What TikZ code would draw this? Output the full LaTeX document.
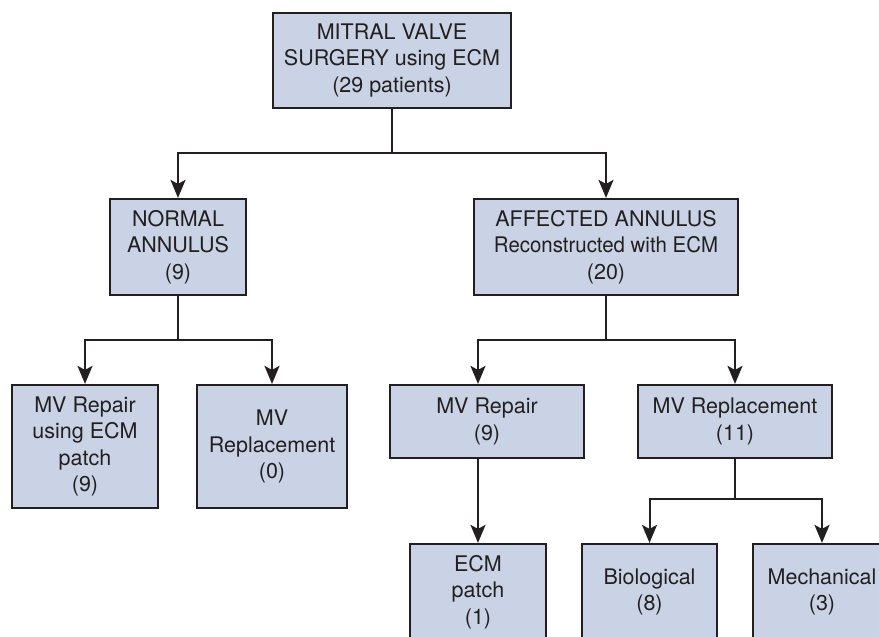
\documentclass[tikz,border=0pt]{standalone}
\usepackage{fontspec}
\setmainfont{TeX Gyre Heros}
\usetikzlibrary{arrows.meta}
\definecolor{boxfill}{HTML}{C9D3E5}
\definecolor{ink}{HTML}{231F20}
\tikzset{
  box/.style={draw=ink, fill=boxfill, line width=2.2pt, inner sep=0pt, align=center,
    font=\fontsize{21.5}{26.5}\selectfont, text=ink},
  conn/.style={draw=ink, line width=2pt},
  arr/.style={conn, -{Stealth[length=18pt,width=15pt,inset=4pt]}}
}
\begin{document}
\begin{tikzpicture}[x=1pt,y=-1pt]
\useasboundingbox (0,0) rectangle (879,637);
\clip (0,0) rectangle (879,637);
\node[box, minimum width=238pt, minimum height=95pt] (top) at (392,60.5) {MITRAL VALVE\\SURGERY using ECM\\(29 patients)};
\node[box, minimum width=136pt, minimum height=96pt] (normal) at (178,247) {NORMAL\\ANNULUS\\(9)};
\node[box, minimum width=264pt, minimum height=96pt] (affected) at (606,247) {AFFECTED ANNULUS\\\scalebox{0.95}[1]{Reconstructed with ECM}\\(20)};
\node[box, minimum width=146pt, minimum height=123pt] (repL) at (85,446.5) {MV Repair\\using ECM\\patch\\(9)};
\node[box, minimum width=150pt, minimum height=123pt] (replL) at (272,446.5) {MV\\Replacement\\(0)};
\node[box, minimum width=194pt, minimum height=73pt] (repR) at (487,421.5) {MV Repair\\(9)};
\node[box, minimum width=194pt, minimum height=73pt] (replR) at (735,421.5) {MV Replacement\\(11)};
\node[box, minimum width=136pt, minimum height=96pt] (ecm) at (478,592) {ECM\\patch\\(1)};
\node[box, minimum width=135pt, minimum height=96pt] (bio) at (649.5,592) {Biological\\(8)};
\node[box, minimum width=138pt, minimum height=96pt] (mech) at (822,592) {Mechanical\\(3)};
\coordinate (b1) at (392,153);
\coordinate (b2) at (178,340);
\coordinate (b3) at (606,340);
\coordinate (b4) at (735,499);
\draw[conn] (top.south) -- (b1);
\draw[arr] (b1) -| (normal.north);
\draw[arr] (b1) -| (affected.north);
\draw[conn] (normal.south) -- (b2);
\draw[arr] (b2) -| (repL.north);
\draw[arr] (b2) -| (replL.north);
\draw[conn] (affected.south) -- (b3);
\draw[arr] (b3) -| (ecm.north |- repR.north);
\draw[arr] (b3) -| (replR.north);
\draw[arr] (ecm.north |- repR.south) -- (ecm.north);
\draw[conn] (replR.south) -- (b4);
\draw[arr] (b4) -| (bio.north);
\draw[arr] (b4) -| (mech.north);
\end{tikzpicture}
\end{document}
